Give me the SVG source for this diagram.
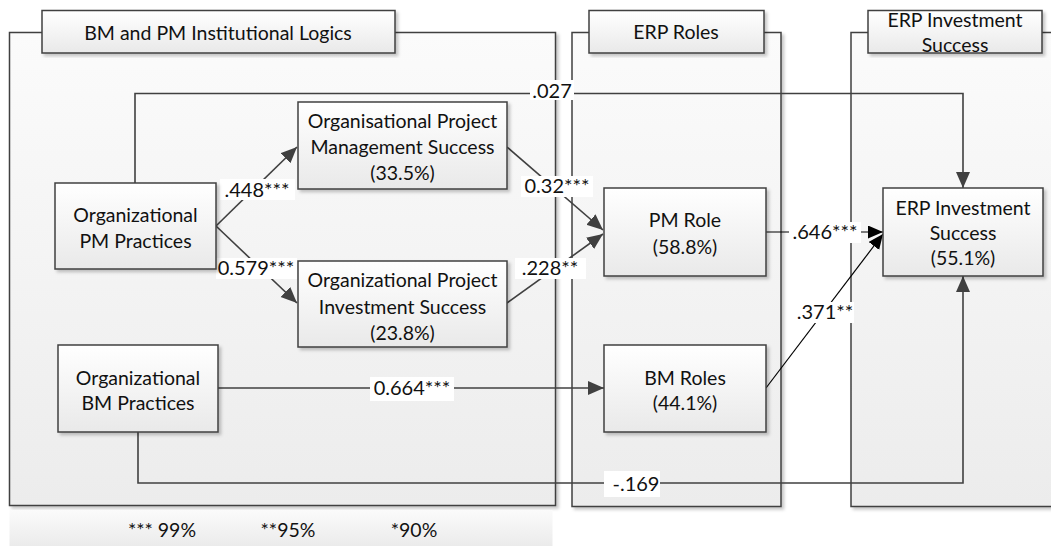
<svg xmlns="http://www.w3.org/2000/svg" width="1051" height="546" viewBox="0 0 1051 546">
  <defs>
    <linearGradient id="gPanel" x1="0" y1="0" x2="0" y2="1">
      <stop offset="0" stop-color="#fbfbfb"/>
      <stop offset="1" stop-color="#ececec"/>
    </linearGradient>
    <linearGradient id="gNode" x1="0" y1="0" x2="0" y2="1">
      <stop offset="0" stop-color="#ffffff"/>
      <stop offset="1" stop-color="#e9e9e9"/>
    </linearGradient>
    <linearGradient id="gLegend" x1="0" y1="0" x2="0" y2="1">
      <stop offset="0" stop-color="#fbfbfb"/>
      <stop offset="1" stop-color="#ebebeb"/>
    </linearGradient>
    <filter id="shadow" x="-5%" y="-5%" width="115%" height="115%">
      <feDropShadow dx="2.5" dy="2.5" stdDeviation="1.5" flood-color="#000" flood-opacity="0.22"/>
    </filter>
    <marker id="arrow" markerUnits="userSpaceOnUse" markerWidth="17" markerHeight="15" refX="16" refY="7" orient="auto">
      <path d="M0,0 L16,7 L0,14 z" fill="#404040"/>
    </marker>
    <marker id="arrowBlack" markerUnits="userSpaceOnUse" markerWidth="17" markerHeight="15" refX="15" refY="6.5" orient="auto">
      <path d="M0,0 L15,6.5 L0,13 z" fill="#000"/>
    </marker>
  </defs>
  <style>
    .panel { fill: url(#gPanel); stroke: #404040; stroke-width: 1.5; filter: url(#shadow); }
    .title { fill: url(#gNode); stroke: #404040; stroke-width: 1.5; filter: url(#shadow); }
    .node { fill: url(#gNode); stroke: #404040; stroke-width: 1.5; filter: url(#shadow); }
    .txt { font-family: Lato, "Liberation Sans", sans-serif; font-size: 19.5px; fill: #111; text-anchor: middle; }
    .lbl { font-family: Lato, "Liberation Sans", sans-serif; font-size: 20px; fill: #111; text-anchor: middle; }
    .lblbg { fill: #ffffff; }
    .link { fill: none; stroke: #404040; stroke-width: 1.6; marker-end: url(#arrow); }
    .linkB { fill: none; stroke: #000; stroke-width: 1.2; marker-end: url(#arrowBlack); }
  </style>

  <rect width="1051" height="546" fill="#ffffff"/>

  <!-- group panels -->
  <g id="panel-logics">
    <rect class="panel" x="9.5" y="32.5" width="546" height="473"/>
    <rect class="title" x="42" y="10.5" width="353" height="42.5"/>
    <text class="txt" x="218" y="40">BM and PM Institutional Logics</text>
  </g>
  <g id="panel-roles">
    <rect class="panel" x="572" y="32.5" width="209" height="474"/>
    <rect class="title" x="589" y="10.5" width="175" height="42.5"/>
    <text class="txt" x="676" y="39">ERP Roles</text>
  </g>
  <g id="panel-success">
    <rect class="panel" x="851" y="32.5" width="215" height="474"/>
    <rect class="title" x="868" y="10.5" width="174" height="42.5"/>
    <text class="txt" x="955" y="27">ERP Investment</text>
    <text class="txt" x="955" y="52">Success</text>
  </g>

  <!-- significance legend -->
  <g id="legend">
    <rect x="9.5" y="510" width="543" height="36" fill="url(#gLegend)"/>
    <text class="txt" x="162" y="537">*** 99%</text>
    <text class="txt" x="288" y="537">**95%</text>
    <text class="txt" x="414" y="537">*90%</text>
  </g>

  <!-- paths between constructs -->
  <g id="connectors">
    <path id="e-pm-erp" class="link" d="M135,183 V93.5 H963 V188"/>
    <path id="e-pm-opms" class="link" d="M216,226 L297,147"/>
    <path id="e-pm-opis" class="link" d="M216,226 L297,303"/>
    <path id="e-opms-pmrole" class="link" d="M507,147 L603,230"/>
    <path id="e-opis-pmrole" class="link" d="M507,303 L603,234"/>
    <path id="e-pmrole-erp" class="linkB" d="M766,232 H883"/>
    <path id="e-bmroles-erp" class="linkB" d="M766,388 L883,234"/>
    <path id="e-bm-bmroles" class="link" d="M218,388 H604"/>
    <path id="e-bm-erp" class="link" d="M138,432 V483 H963 V276"/>

    <!-- coefficient labels -->
    <rect class="lblbg" x="530" y="80" width="44" height="20"/>
    <text class="lbl" x="552" y="98">.027</text>
    <rect class="lblbg" x="220" y="179" width="75" height="21"/>
    <text class="lbl" x="257" y="197">.448***</text>
    <rect class="lblbg" x="216" y="258" width="81" height="21"/>
    <text class="lbl" x="256" y="275">0.579***</text>
    <rect class="lblbg" x="521" y="176" width="72" height="21"/>
    <text class="lbl" x="557" y="193">0.32***</text>
    <rect class="lblbg" x="515" y="258" width="71" height="21"/>
    <text class="lbl" x="550" y="275">.228**</text>
    <rect class="lblbg" x="789" y="222" width="72" height="21"/>
    <text class="lbl" x="825" y="239">.646***</text>
    <rect class="lblbg" x="796" y="302" width="58" height="21"/>
    <text class="lbl" x="825" y="319">.371**</text>
    <rect class="lblbg" x="370" y="377" width="84" height="24"/>
    <text class="lbl" x="412" y="395">0.664***</text>
    <rect class="lblbg" x="604" y="471" width="56" height="26"/>
    <text class="lbl" x="636" y="491">-.169</text>
  </g>

  <!-- constructs -->
  <g id="node-pm-practices">
    <rect class="node" x="55" y="183" width="161" height="86"/>
    <text class="txt" x="135.5" y="222">Organizational</text>
    <text class="txt" x="135.5" y="248">PM Practices</text>
  </g>
  <g id="node-opms">
    <rect class="node" x="298" y="102" width="209" height="87"/>
    <text class="txt" x="402.5" y="128">Organisational Project</text>
    <text class="txt" x="402.5" y="154">Management Success</text>
    <text class="txt" x="402.5" y="180">(33.5%)</text>
  </g>
  <g id="node-opis">
    <rect class="node" x="298" y="261" width="209" height="86"/>
    <text class="txt" x="402.5" y="287">Organizational Project</text>
    <text class="txt" x="402.5" y="314">Investment Success</text>
    <text class="txt" x="402.5" y="340">(23.8%)</text>
  </g>
  <g id="node-bm-practices">
    <rect class="node" x="58" y="345" width="160" height="87"/>
    <text class="txt" x="138" y="385">Organizational</text>
    <text class="txt" x="138" y="410">BM Practices</text>
  </g>
  <g id="node-pm-role">
    <rect class="node" x="604" y="188" width="162" height="88"/>
    <text class="txt" x="685" y="227">PM Role</text>
    <text class="txt" x="685" y="254">(58.8%)</text>
  </g>
  <g id="node-bm-roles">
    <rect class="node" x="604" y="345" width="162" height="87"/>
    <text class="txt" x="685" y="385">BM Roles</text>
    <text class="txt" x="685" y="410">(44.1%)</text>
  </g>
  <g id="node-erp-success">
    <rect class="node" x="883" y="188" width="160" height="88"/>
    <text class="txt" x="963" y="215">ERP Investment</text>
    <text class="txt" x="963" y="240">Success</text>
    <text class="txt" x="963" y="265">(55.1%)</text>
  </g>
</svg>
